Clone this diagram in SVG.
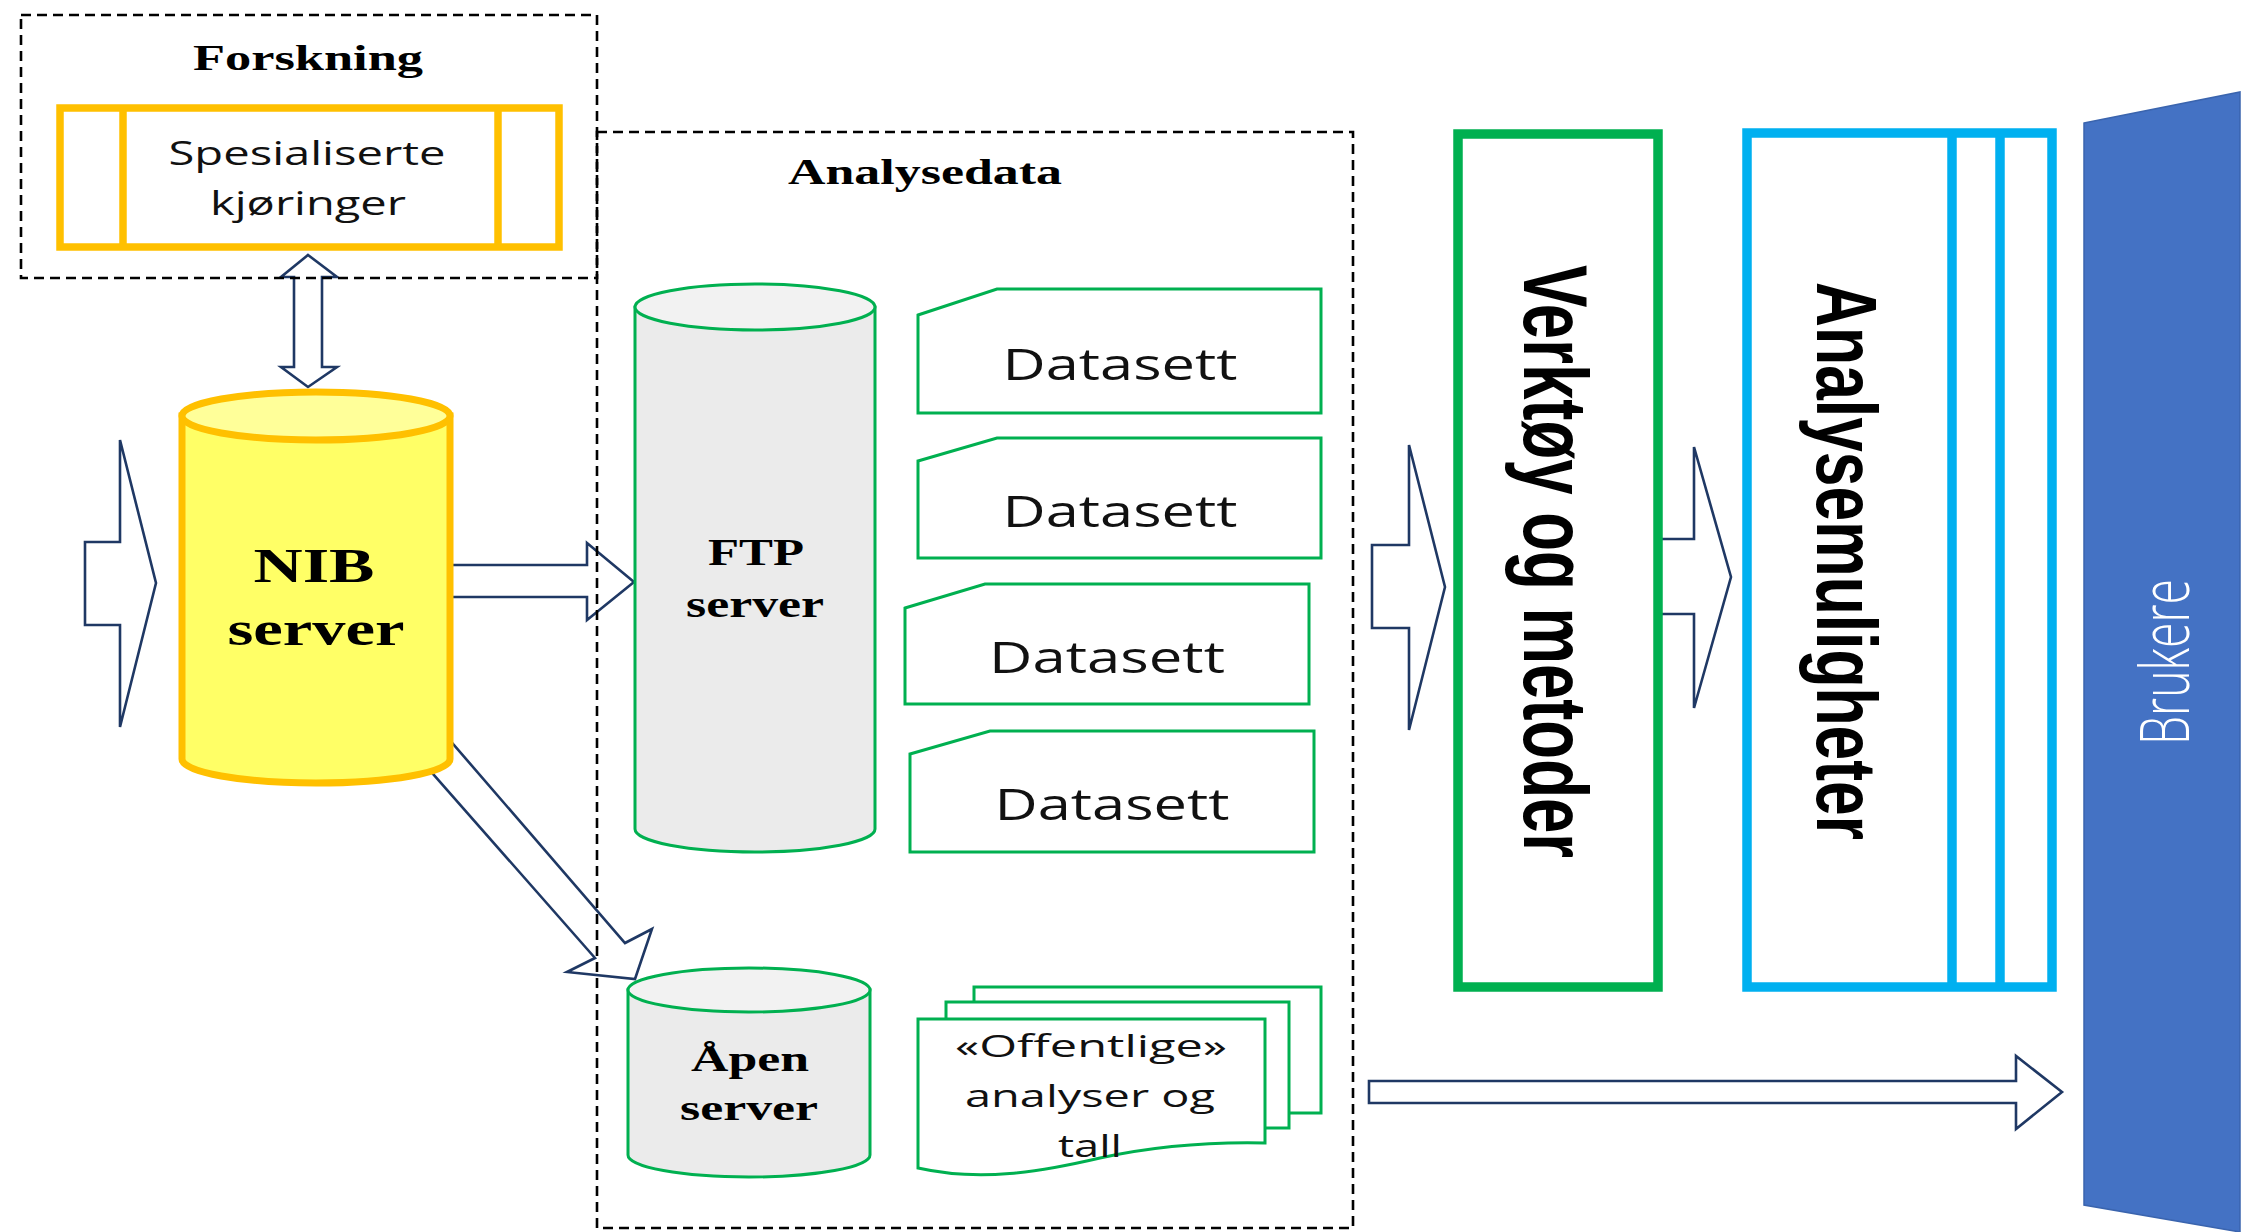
<svg xmlns="http://www.w3.org/2000/svg" width="2242" height="1232" viewBox="0 0 2242 1232">
<style>
.bg{fill:#FFFFFF}
.arrow{fill:#FFFFFF;stroke:#1F3864;stroke-width:2.6;stroke-linejoin:miter}
.dash{fill:none;stroke:#000000;stroke-width:2.6;stroke-dasharray:10 6}
.serifb{font-family:"Liberation Serif","Times New Roman",serif;font-weight:bold;fill:#000000;text-anchor:middle}
.sans{font-family:"Open Sans","Liberation Sans",Arial,sans-serif;fill:#111111;text-anchor:middle}
.vert{font-family:"Liberation Sans",Arial,sans-serif;font-weight:bold;fill:#000000}
.doc{fill:#FFFFFF;stroke:#00B050;stroke-width:3}
.cylG{fill:#EBEBEB;stroke:#00B050;stroke-width:3}
.cylGtop{fill:#F2F2F2;stroke:#00B050;stroke-width:3}
</style>
<rect class="bg" x="0" y="0" width="2242" height="1232"/>

<g id="connectors">
  <polygon id="arrow-in" class="arrow" points="85,542 120,542 120,440 156,583 120,727 120,625 85,625"/>
  <polygon id="arrow-forskning-nib" class="arrow" points="308,255 337,277 322,277 322,367 337,367 308,387 281,367 294,367 294,277 281,277"/>
  <polygon id="arrow-nib-ftp" class="arrow" points="440,565 587,565 587,543 634,582 587,620 587,597 440,597"/>
  <polygon id="arrow-nib-apen" class="arrow" points="403,686 625,943 652,929 635,979 567,972 595,958 382,716"/>
  <polygon id="arrow-data-verktoy" class="arrow" points="1372,545 1409,545 1409,445 1445,587 1409,730 1409,628 1372,628"/>
  <polygon id="arrow-verktoy-analyse" class="arrow" points="1655,539 1694,539 1694,447 1731,577 1694,708 1694,614 1655,614"/>
  <polygon id="arrow-open-brukere" class="arrow" points="1369,1081 2016,1081 2016,1056 2062,1092 2016,1129 2016,1103 1369,1103"/>
</g>

<g id="forskning">
  <rect class="dash" x="21" y="15" width="576" height="263"/>
  <text class="serifb" x="308" y="70" font-size="35" textLength="230" lengthAdjust="spacingAndGlyphs">Forskning</text>
</g>

<g id="spesialiserte">
  <rect x="60" y="108" width="499" height="139" fill="#FFFFFF" stroke="#FFC000" stroke-width="7.5"/>
  <line x1="123" y1="108" x2="123" y2="247" stroke="#FFC000" stroke-width="7.5"/>
  <line x1="498" y1="108" x2="498" y2="247" stroke="#FFC000" stroke-width="7.5"/>
  <text class="sans" x="307" y="165" font-size="32" textLength="277" lengthAdjust="spacingAndGlyphs">Spesialiserte</text>
  <text class="sans" x="308" y="215" font-size="32" textLength="196" lengthAdjust="spacingAndGlyphs">kjøringer</text>
</g>

<g id="analysedata">
  <rect class="dash" x="597" y="132" width="756" height="1096"/>
  <text class="serifb" x="925" y="184" font-size="35" textLength="274" lengthAdjust="spacingAndGlyphs">Analysedata</text>
</g>

<g id="nib-server">
  <path d="M182,416 L182,759 A134,24 0 0 0 450,759 L450,416 Z" fill="#FFFF66" stroke="#FFC000" stroke-width="7"/>
  <ellipse cx="316" cy="416" rx="134" ry="24" fill="#FFFF99" stroke="#FFC000" stroke-width="7"/>
  <text class="serifb" x="314" y="582" font-size="48" textLength="121" lengthAdjust="spacingAndGlyphs">NIB</text>
  <text class="serifb" x="316" y="645" font-size="48" textLength="177" lengthAdjust="spacingAndGlyphs">server</text>
</g>

<g id="ftp-server">
  <path class="cylG" d="M635,307 L635,829 A120,23 0 0 0 875,829 L875,307 Z"/>
  <ellipse class="cylGtop" cx="755" cy="307" rx="120" ry="23"/>
  <text class="serifb" x="756" y="565" font-size="37" textLength="96" lengthAdjust="spacingAndGlyphs">FTP</text>
  <text class="serifb" x="755" y="617" font-size="37" textLength="138" lengthAdjust="spacingAndGlyphs">server</text>
</g>

<g id="datasett-1">
  <path class="doc" d="M918,315 L997,289 L1321,289 L1321,413 L918,413 Z"/>
  <text class="sans" x="1120" y="380" font-size="44" textLength="235" lengthAdjust="spacingAndGlyphs">Datasett</text>
</g>
<g id="datasett-2">
  <path class="doc" d="M918,461 L997,438 L1321,438 L1321,558 L918,558 Z"/>
  <text class="sans" x="1120" y="527" font-size="44" textLength="235" lengthAdjust="spacingAndGlyphs">Datasett</text>
</g>
<g id="datasett-3">
  <path class="doc" d="M905,608 L985,584 L1309,584 L1309,704 L905,704 Z"/>
  <text class="sans" x="1107" y="673" font-size="44" textLength="236" lengthAdjust="spacingAndGlyphs">Datasett</text>
</g>
<g id="datasett-4">
  <path class="doc" d="M910,754 L990,731 L1314,731 L1314,852 L910,852 Z"/>
  <text class="sans" x="1112" y="820" font-size="44" textLength="235" lengthAdjust="spacingAndGlyphs">Datasett</text>
</g>

<g id="apen-server">
  <path class="cylG" d="M628,990 L628,1155 A121,22 0 0 0 870,1155 L870,990 Z"/>
  <ellipse class="cylGtop" cx="749" cy="990" rx="121" ry="22"/>
  <text class="serifb" x="750" y="1071" font-size="35" textLength="118" lengthAdjust="spacingAndGlyphs">Åpen</text>
  <text class="serifb" x="749" y="1120" font-size="35" textLength="138" lengthAdjust="spacingAndGlyphs">server</text>
</g>

<g id="offentlige">
  <rect class="doc" x="974" y="987" width="347" height="126"/>
  <rect class="doc" x="946" y="1002" width="343" height="126"/>
  <path class="doc" d="M918,1019 L1265,1019 L1265,1143 C1220,1142 1160,1145 1100,1158 C1040,1172 980,1182 918,1168 Z"/>
  <text class="sans" x="1091" y="1057" font-size="31" textLength="272" lengthAdjust="spacingAndGlyphs">«Offentlige»</text>
  <text class="sans" x="1090" y="1107" font-size="31" textLength="250" lengthAdjust="spacingAndGlyphs">analyser og</text>
  <text class="sans" x="1090" y="1157" font-size="31" textLength="64" lengthAdjust="spacingAndGlyphs">tall</text>
</g>

<g id="verktoy">
  <rect x="1458" y="134" width="200" height="853" fill="#FFFFFF" stroke="#00B050" stroke-width="9.5"/>
  <text class="vert" transform="translate(1524,265) rotate(90)" x="0" y="0" font-size="91" textLength="593" lengthAdjust="spacingAndGlyphs">Verktøy og metoder</text>
</g>

<g id="analysemuligheter">
  <rect x="1747" y="133" width="305" height="854" fill="#FFFFFF" stroke="#00B0F0" stroke-width="9.5"/>
  <line x1="1952" y1="133" x2="1952" y2="987" stroke="#00B0F0" stroke-width="9.5"/>
  <line x1="2000" y1="133" x2="2000" y2="987" stroke="#00B0F0" stroke-width="9.5"/>
  <text class="vert" transform="translate(1817,282) rotate(90)" x="0" y="0" font-size="85" textLength="558" lengthAdjust="spacingAndGlyphs">Analysemuligheter</text>
</g>

<g id="brukere">
  <polygon points="2084,123 2240,92 2240,1232 2084,1205" fill="#4472C4" stroke="#3A64AE" stroke-width="1.5"/>
  <text transform="translate(2189,745) rotate(-90)" x="0" y="0" font-family="'Open Sans','Liberation Sans',Arial,sans-serif" font-weight="300" font-size="68" fill="#FFFFFF" textLength="166" lengthAdjust="spacingAndGlyphs">Brukere</text>
</g>
</svg>
